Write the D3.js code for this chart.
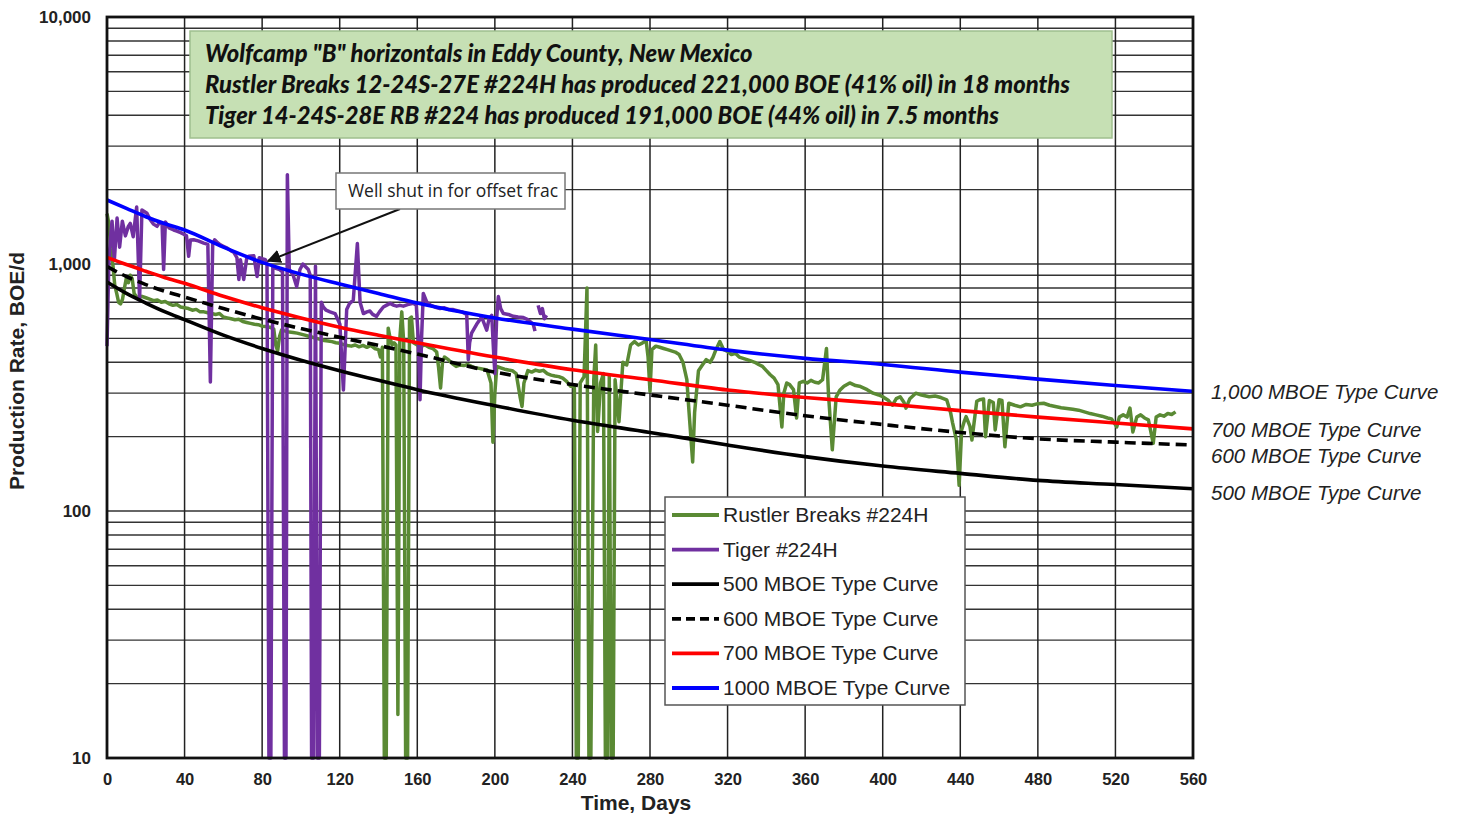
<!DOCTYPE html>
<html><head><meta charset="utf-8">
<script src="https://cdn.jsdelivr.net/npm/d3@7"></script>
<style>
html,body{margin:0;padding:0;background:#fff;}
svg{display:block;}
</style></head>
<body>
<svg id="chart" width="1458" height="818"></svg>
<script>
// ---------------- DATA ----------------
const xTicks = [0,40,80,120,160,200,240,280,320,360,400,440,480,520,560];
const yTicks = [10,100,1000,10000];

const tcDays = [0,10,20,30,40,60,80,100,120,140,160,200,240,280,320,360,400,440,480,520,560];
const tc500  = [845,760,695,640,595,515,455,408,370,338,310,267,233,208,185,166,152,142,133,128,123];
const tc600  = [975,890,825,775,735,660,598,548,505,468,432,365,325,295,268,243,224,208,196,190,185];
const tc700  = [1064,995,935,880,835,740,665,605,555,515,480,420,373,340,309,288,272,255,240,227,215];
const tc1000 = [1816,1680,1554,1455,1373,1170,1015,910,830,760,695,605,545,495,448,415,392,365,342,322,305];

// Rustler Breaks #224H  [day, BOE/d]
const rustlerBreaks = [[0,1600],[1,1450],[2,1150],[3,1000],[4,820],[5,760],[6,700],[7,690],[8,720],[9,800],[10,880],[11,840],[12,900],[13,870],[14,760],[15,740],[16,730],[18,740],[20,730],[22,720],[24,710],[26,715],[28,700],[30,705],[32,690],[34,680],[36,685],[38,670],[40,665],[42,660],[44,650],[46,655],[48,640],[50,640],[52,635],[54,630],[56,625],[58,630],[60,610],[62,605],[64,600],[66,595],[68,598],[70,585],[72,580],[74,575],[76,570],[78,568],[80,560],[82,558],[84,555],[86,545],[87,470],[88,445],[89,510],[90,540],[92,535],[94,530],[96,528],[98,525],[100,520],[102,515],[104,510],[106,505],[108,500],[110,495],[112,490],[114,488],[116,485],[118,480],[120,478],[122,472],[124,468],[126,465],[128,470],[130,462],[132,468],[134,460],[136,468],[138,455],[140,450],[141,420],[142,460],[143,10],[144,10],[145,550],[146,500],[147,470],[148,480],[149,470],[150,15],[151,500],[152,640],[153,480],[154,10],[155,10],[156,600],[157,610],[158,480],[160,470],[162,465],[164,470],[166,460],[168,455],[170,440],[171,380],[172,315],[173,400],[174,420],[176,410],[178,395],[180,385],[182,390],[184,388],[186,392],[188,385],[190,380],[192,378],[194,375],[196,372],[198,330],[199,190],[200,300],[201,385],[203,380],[205,375],[207,372],[209,370],[211,360],[213,290],[214,265],[215,330],[217,370],[219,365],[221,372],[223,368],[225,371],[227,360],[229,355],[231,352],[233,350],[235,345],[237,335],[239,320],[241,320],[242,10],[243,10],[244,330],[246,350],[247.5,800],[248.5,10],[249.5,10],[251,340],[252,470],[253,210],[254.5,330],[256,360],[257,10],[258,10],[259,350],[260,10],[261,10],[262,340],[264,230],[266,400],[268,390],[270,470],[272,485],[274,470],[276,478],[278,490],[279,420],[280,305],[281,450],[283,465],[285,460],[287,455],[289,450],[291,445],[293,440],[295,430],[297,400],[299,340],[300,260],[302,158],[303,250],[305,370],[307,390],[309,410],[311,400],[312.5,420],[314,450],[316,485],[318,450],[320,443],[322,430],[324,435],[326,420],[328,415],[330,410],[332,405],[334,400],[336,392],[338,385],[340,370],[342,356],[344,345],[346,325],[348,219],[349,300],[350.5,330],[352,325],[354,310],[355.6,238],[357,330],[359,335],[361,330],[363,338],[365,332],[367,330],[369,340],[371,455],[372,300],[374,177],[376,290],[378,309],[380,320],[383,330],[386,322],[388,320],[390,315],[392,310],[395,300],[398,295],[400,290],[403,280],[405,268],[407,285],[409,290],[411,275],[412,261],[414,285],[417,300],[420,295],[424,290],[427,292],[430,288],[433,282],[435,250],[436,228],[438,194],[439.4,127],[440.7,213],[442,230],[443,241],[445,220],[446,194],[448.5,278],[450,282],[452,284],[453,200],[455,280],[457,275],[458,213],[460,282],[461.5,280],[463,182],[465,273],[468,268],[471,264],[474,270],[477,268],[480,272],[483,273],[486,268],[489,265],[492,262],[495,260],[498,258],[501,256],[504,252],[507,248],[510,245],[513,242],[516,238],[518,236],[520.7,219],[522,240],[524,245],[526,240],[527.5,261],[529,209],[531,240],[533,245],[535,238],[537,234],[539.5,188],[541,240],[543,245],[545,242],[547,248],[549,246],[551,252]];

// Tiger #224H  [day, BOE/d]  (null = gap in record)
const tiger = [[0,465],[0.9,980],[1.7,1250],[2.6,1490],[3.8,1040],[5.2,1535],[6.5,1170],[7.9,1490],[9.5,1300],[11,1420],[12,1460],[13.5,1290],[15.3,1700],[16.8,714],[18,1655],[20.6,1605],[22.3,1510],[24,1450],[25.8,1420],[27,1470],[28.4,1460],[29.2,950],[30.1,1480],[32,1400],[34.4,1373],[36,1360],[38,1340],[39.6,1320],[41,1300],[42.1,1075],[43,1250],[44.7,1253],[47,1240],[49.9,1215],[52,1200],[53.3,333],[54.5,1200],[55.5,1253],[57,1220],[58.5,1195],[60,1180],[62,1160],[64,1130],[65.4,1115],[67,1060],[68,866],[68.8,1040],[70.5,866],[72,1050],[73.1,1075],[75.7,1080],[77.4,890],[78.5,1060],[80,1050],[81.7,1040],[82.5,1000],[83.5,10],[84.5,10],[85.5,980],[87,960],[89,950],[90.5,930],[91.5,10],[92.3,10],[93,2300],[94,950],[96,900],[97.8,810],[99.5,950],[101,1000],[103.8,950],[104.8,900],[105.5,10],[106.5,10],[107.5,980],[108.5,10],[109.5,10],[110.5,700],[111.5,670],[113,650],[115,640],[117.6,630],[120.1,570],[121.9,309],[123.6,654],[125,690],[127,714],[129.1,1210],[130.5,700],[132.2,630],[134,640],[135.6,645],[137,625],[139,614],[140.5,640],[142.5,670],[144,680],[146,693],[148,680],[149.4,675],[151,680],[152.8,675],[155,685],[158,693],[159.5,680],[160.5,500],[161.4,282],[162.2,500],[163.1,760],[164.9,700],[167,680],[169,670],[171.7,660],[174,665],[176,655],[178.6,654],[181,645],[183,640],[185.5,625],[186.3,410],[187,480],[188,525],[190.6,570],[193.2,610],[195.8,540],[197,600],[198.4,620],[199.3,450],[200,360],[200.9,600],[201.8,738],[203,660],[204.4,630],[207,625],[209.5,614],[212,610],[214.7,607],[217,595],[219.8,570],[220.7,535],[221.5,null],[222.3,680],[223.5,630],[224.5,660],[225.5,600],[226.7,620]];

const titleLines = ['Wolfcamp "B" horizontals in Eddy County, New Mexico',
  'Rustler Breaks 12-24S-27E #224H has produced 221,000 BOE (41% oil) in 18 months',
  'Tiger 14-24S-28E RB #224 has produced 191,000 BOE (44% oil) in 7.5 months'];
const legendLabels = ['Rustler Breaks #224H','Tiger #224H','500 MBOE Type Curve','600 MBOE Type Curve','700 MBOE Type Curve','1000 MBOE Type Curve'];
const rightLabels = ['1,000 MBOE Type Curve','700 MBOE Type Curve','600 MBOE Type Curve','500 MBOE Type Curve'];
const noteText = 'Well shut in for offset frac';
const notePoint = [82, 1000];

// ---------------- CHART ----------------
const svg = d3.select('#chart');
const L = 107, R = 1193, T = 17, B = 758;
const x = d3.scaleLinear().domain([0,560]).range([L,R]);
const y = d3.scaleLog().domain([10,10000]).range([B,T]);

const GREEN = '#5a8a34', PURPLE = '#7030a0';
const SANS = 'Liberation Sans, Arial, sans-serif';

// grid
const gridG = svg.append('g');
const hVals = [];
for (let d = 10; d < 10000; d *= 10) for (let k = 1; k <= 9; k++) hVals.push(d*k);
gridG.selectAll('line.h').data(hVals.filter(v => v > 10)).enter().append('line')
  .attr('x1', L).attr('x2', R).attr('y1', d => y(d)).attr('y2', d => y(d))
  .attr('stroke', '#333').attr('stroke-width', 1.4);
gridG.selectAll('line.v').data(xTicks.slice(1,-1)).enter().append('line')
  .attr('x1', d => x(d)).attr('x2', d => x(d)).attr('y1', T).attr('y2', B)
  .attr('stroke', '#222').attr('stroke-width', 1.5);

// title box
const tb = svg.append('g');
tb.append('rect').attr('x',190).attr('y',31).attr('width',922).attr('height',107)
  .attr('fill','#c6e0b4').attr('stroke','#9fbf8e').attr('stroke-width',1.5);
const tTexts = tb.selectAll('text').data(titleLines).enter().append('text')
  .attr('x',205).attr('y',(d,i)=>62+i*31)
  .attr('font-family','Lato, "Open Sans", sans-serif').attr('font-style','italic').attr('font-weight','900')
  .attr('font-size',22).attr('fill','#111').text(d=>d);
{
  const w = tTexts.nodes()[1].getComputedTextLength();
  tTexts.attr('font-size', 22 * 865 / w);
}

// lines
const line = d3.line().defined(d => d[1] !== null).x(d => x(d[0])).y(d => y(d[1]));
svg.append('path').datum(rustlerBreaks).attr('d', line).attr('fill','none')
  .attr('stroke', GREEN).attr('stroke-width', 3.5).attr('stroke-linejoin','round');
svg.append('path').datum(tiger).attr('d', line).attr('fill','none')
  .attr('stroke', PURPLE).attr('stroke-width', 3.5).attr('stroke-linejoin','round');

const smooth = d3.line().curve(d3.curveMonotoneX).x(d => x(d[0])).y(d => y(d[1]));
const tcs = [
  {v: tc500, color:'#000', dash:null},
  {v: tc600, color:'#000', dash:'11,6'},
  {v: tc700, color:'#ff0000', dash:null},
  {v: tc1000, color:'#0000ff', dash:null}
];
tcs.forEach(c => {
  svg.append('path').datum(tcDays.map((d,i)=>[d,c.v[i]])).attr('d', smooth)
    .attr('fill','none').attr('stroke', c.color).attr('stroke-width', 3.6)
    .attr('stroke-dasharray', c.dash);
});

// frame
svg.append('rect').attr('x',L).attr('y',T).attr('width',R-L).attr('height',B-T)
  .attr('fill','none').attr('stroke','#111').attr('stroke-width',2.8);

// axes
const xAxis = svg.append('g').attr('transform',`translate(0,${B})`)
  .call(d3.axisBottom(x).tickValues(xTicks).tickSize(0).tickPadding(15));
xAxis.select('.domain').remove();
xAxis.selectAll('text').attr('font-family',SANS).attr('font-weight','bold')
  .attr('font-size',16.5).attr('fill','#222');
const yAxis = svg.append('g').attr('transform',`translate(${L},0)`)
  .call(d3.axisLeft(y).tickValues(yTicks).tickFormat(d3.format(',')).tickSize(0).tickPadding(16));
yAxis.select('.domain').remove();
yAxis.selectAll('text').attr('font-family',SANS).attr('font-weight','bold')
  .attr('font-size',17).attr('fill','#222');

svg.append('text').attr('x',636).attr('y',810).attr('text-anchor','middle')
  .attr('font-family',SANS).attr('font-weight','bold').attr('font-size',21)
  .attr('fill','#222').text('Time, Days');
svg.append('text').attr('transform','translate(24,371) rotate(-90)').attr('text-anchor','middle')
  .attr('font-family',SANS).attr('font-weight','bold').attr('font-size',21)
  .attr('fill','#222').text('Production Rate, BOE/d');

// right labels at curve ends
const rightY = [392, 430, 456, 493];
svg.selectAll('text.rl').data(rightLabels).enter().append('text')
  .attr('x', 1211).attr('y', (d,i) => rightY[i] + 7)
  .attr('font-family',SANS).attr('font-style','italic')
  .attr('font-size',20.5).attr('fill','#222').text(d=>d);

// annotation
const defs = svg.append('defs');
defs.append('marker').attr('id','arr').attr('viewBox','0 0 10 10').attr('refX',9).attr('refY',5)
  .attr('markerWidth',7).attr('markerHeight',7).attr('orient','auto')
  .append('path').attr('d','M0,0 L10,5 L0,10 z').attr('fill','#111');
svg.append('line').attr('x1',400).attr('y1',209).attr('x2',x(notePoint[0])+2).attr('y2',y(notePoint[1])-3)
  .attr('stroke','#111').attr('stroke-width',2).attr('marker-end','url(#arr)');
svg.append('rect').attr('x',336).attr('y',173).attr('width',229).attr('height',36)
  .attr('fill','#fff').attr('stroke','#777').attr('stroke-width',1.5);
svg.append('text').attr('x',453).attr('y',197).attr('text-anchor','middle')
  .attr('font-family','"Open Sans", Lato, sans-serif').attr('font-size',17.5).attr('fill','#222').text(noteText);

// legend
const lg = svg.append('g');
lg.append('rect').attr('x',665).attr('y',497).attr('width',300).attr('height',208)
  .attr('fill','#fff').attr('stroke','#555').attr('stroke-width',1.5);
const legendStyles = [
  {c:GREEN, dash:null},{c:PURPLE, dash:null},{c:'#000', dash:null},{c:'#000', dash:'9,5'},{c:'#ff0000', dash:null},{c:'#0000ff', dash:null}];
legendLabels.forEach((lab,i) => {
  const cy = 515 + i*34.6;
  lg.append('line').attr('x1',672).attr('x2',719).attr('y1',cy).attr('y2',cy)
    .attr('stroke',legendStyles[i].c).attr('stroke-width',3.8).attr('stroke-dasharray',legendStyles[i].dash);
  lg.append('text').attr('x',723).attr('y',cy+7)
    .attr('font-family',SANS).attr('font-size',21).attr('fill','#222').text(lab);
});
</script>
</body></html>
